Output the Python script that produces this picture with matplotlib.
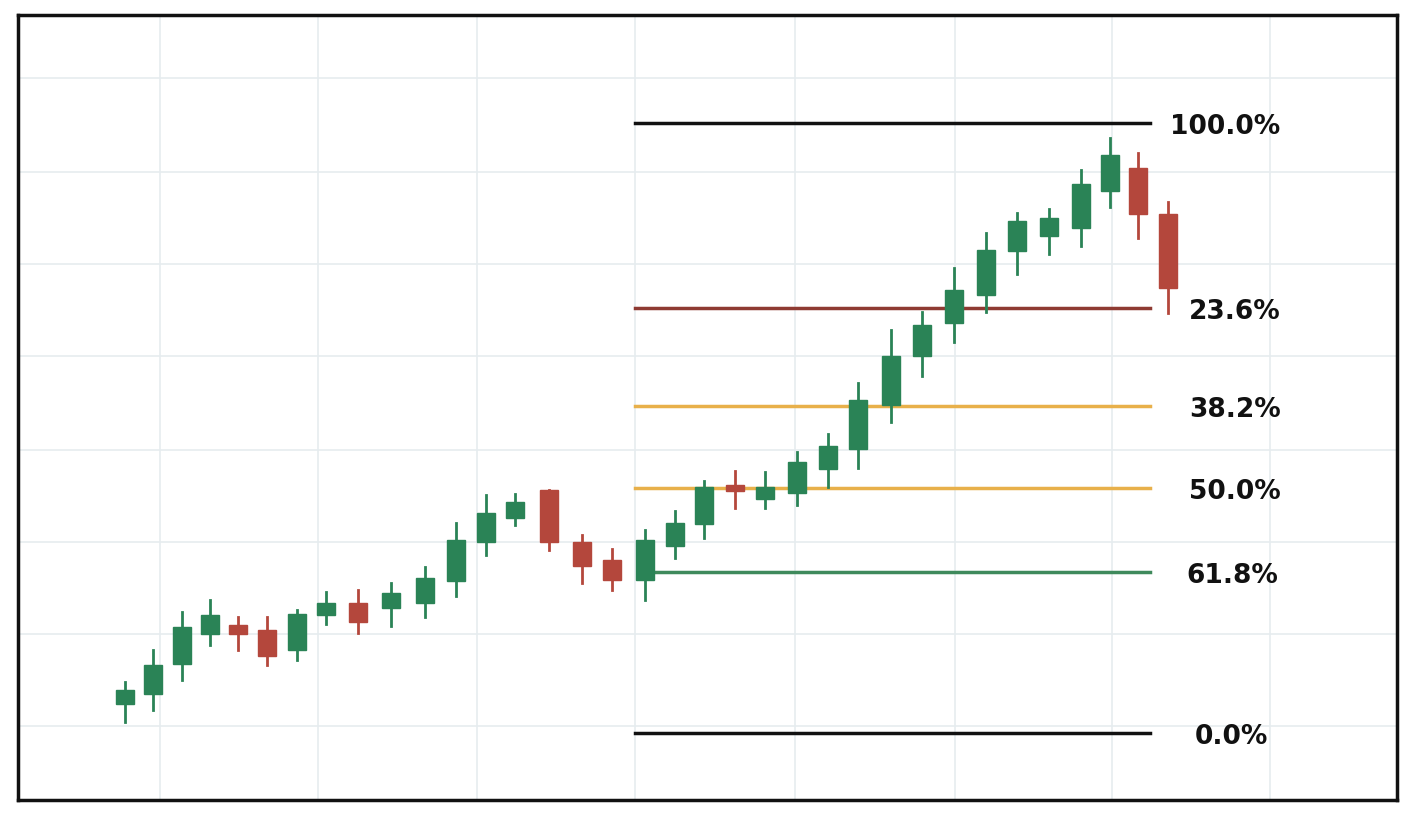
import matplotlib.pyplot as plt

# candle data (x position, open, close, high, low) in chart units
xs     = [125, 153, 182, 210, 238, 267, 297, 326, 358, 391, 425, 456, 486, 515, 549, 582, 612, 645,
          675, 704, 735, 765, 797, 828, 858, 891, 922, 954, 986, 1017, 1049, 1081, 1110, 1138, 1168]
opens  = [704, 694, 664, 634, 625, 630, 650, 615, 603, 608, 603, 581, 542, 518, 490, 542, 560, 580,
          546, 524, 485, 499, 493, 469, 449, 405, 356, 323, 295, 251, 236, 228, 191, 168, 214]
closes = [690, 665, 627, 615, 634, 656, 614, 603, 622, 593, 578, 540, 513, 502, 542, 566, 580, 540,
          523, 487, 491, 487, 462, 446, 400, 356, 325, 290, 250, 221, 218, 184, 155, 214, 288]
highs  = [682, 650, 612, 600, 617, 617, 610, 592, 590, 583, 567, 523, 495, 494, 490, 535, 549, 530,
          511, 481, 471, 472, 452, 434, 383, 330, 312, 268, 233, 213, 209, 170, 138, 153, 202]
lows   = [722, 710, 680, 645, 650, 665, 660, 624, 633, 626, 617, 596, 555, 525, 550, 583, 590, 600,
          558, 538, 508, 508, 505, 487, 468, 422, 376, 342, 312, 274, 254, 246, 207, 238, 313]

fib_labels = ['100.0%', '23.6%', '38.2%', '50.0%', '61.8%', '0.0%']
fib_levels = [123, 308, 406, 488, 572, 733]
fib_starts = [635, 635, 635, 635, 655, 635]
fib_colors = ['#111111', '#8e3a32', '#e8b04a', '#e8b04a', '#3f8a5c', '#111111']
fib_label_x = [1225, 1235, 1235, 1235, 1232, 1231]

GREEN = '#2a8356'
RED = '#b4473c'

fig = plt.figure(figsize=(14.15, 8.15), dpi=100)
ax = fig.add_axes([18 / 1415, 15 / 815, 1379 / 1415, 785 / 815])

H = 800  # flip pixel-like values so up is higher
for x, o, c, h, l in zip(xs, opens, closes, highs, lows):
    col = GREEN if c < o else RED
    ax.plot([x, x], [H - h, H - l], color=col, lw=2, zorder=3)
    lo, hi = H - max(o, c), H - min(o, c)
    ax.bar(x, hi - lo, bottom=lo, width=18, color=col, edgecolor=col, zorder=4)

for lab, y, xs0, col, lx in zip(fib_labels, fib_levels, fib_starts, fib_colors, fib_label_x):
    ax.plot([xs0, 1150], [H - y, H - y], color=col, lw=2.5, zorder=2)
    ax.text(lx, H - y - 4, lab, fontsize=19, fontweight='bold', color='#111111',
            ha='center', va='center')

ax.set_xlim(18, 1397)
ax.set_ylim(0, 785)
ax.set_xticks([160, 318, 477, 635, 795, 955, 1112, 1270])
ax.set_yticks([H - v for v in [78, 172, 264, 356, 450, 542, 634, 726]])
ax.tick_params(length=0, labelbottom=False, labelleft=False)
ax.grid(True, color='#e6ecef', lw=1.2, zorder=0)
for s in ax.spines.values():
    s.set_linewidth(2.5)
    s.set_color('#111111')

fig.savefig('out.png', dpi=100)
